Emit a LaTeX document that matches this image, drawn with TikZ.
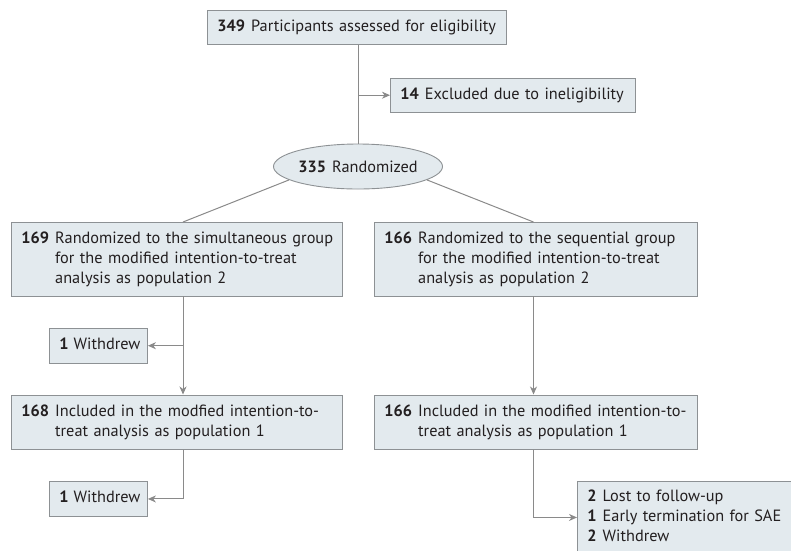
\documentclass[tikz,border=0pt]{standalone}
\usepackage{fontspec}
\setmainfont{PT Sans}
\usetikzlibrary{arrows.meta,shapes.geometric,calc}
\definecolor{boxfill}{HTML}{E3EAEE}
\definecolor{boxline}{HTML}{8D9194}
\definecolor{conn}{HTML}{8A8A8A}
\definecolor{txt}{HTML}{231F20}
\newcommand\fsz{\fontsize{16.3pt}{20pt}\selectfont}
\newcommand\nm[1]{\textbf{#1}}
\begin{document}
\begin{tikzpicture}[x=1pt,y=-1pt,
  box/.style={draw=boxline, fill=boxfill, line width=0.9pt, rectangle,
    inner xsep=10pt, inner ysep=0pt, text=txt, align=left, font=\fsz, anchor=north west},
  oval/.style={draw=boxline, fill=boxfill, line width=0.9pt, ellipse,
    inner sep=0pt, text=txt, font=\fsz},
  line/.style={draw=conn, line width=1pt},
  arr/.style={line, -{Stealth[length=8pt,width=7pt,inset=2.5pt]}}]
\useasboundingbox (0,0) rectangle (791,550);
\clip (0,0) rectangle (791,550);

\coordinate (mx) at (358,0);
\coordinate (lx) at (183,0);
\coordinate (rx) at (533.5,0);

\node[box, minimum width=299, text width=279, minimum height=34] (top) at (207,10)
  {\begin{tabular}{@{}l@{\hspace{6pt}}l@{}}\nm{349} & Participants assessed for eligibility\end{tabular}};
\node[box, minimum width=245, text width=225, minimum height=34.5] (excl) at (390,77.5)
  {\begin{tabular}{@{}l@{\hspace{6pt}}l@{}}\nm{14} & Excluded due to ineligibility\end{tabular}};
\node[oval, minimum width=169, minimum height=45] (rand) at (358,166.5)
  {\nm{335}\hspace{6pt}Randomized};

\node[box, minimum width=331, text width=311, minimum height=73.5] (L1) at (11,222)
  {\begin{tabular}{@{}l@{\hspace{6pt}}l@{}}\nm{169} & Randomized to the simultaneous group\\
   & for the modified intention-to-treat\\ & analysis as population 2\end{tabular}};
\node[box, minimum width=323, text width=303, minimum height=73.5] (R1) at (374,222)
  {\begin{tabular}{@{}l@{\hspace{6pt}}l@{}}\nm{166} & Randomized to the sequential group\\
   & for the modified intention-to-treat\\ & analysis as population 2\end{tabular}};

\node[box, minimum width=98, text width=78, minimum height=34.5] (W1) at (49,328)
  {\begin{tabular}{@{}l@{\hspace{5pt}}l@{}}\nm{1} & Withdrew\end{tabular}};

\node[box, minimum width=331, text width=311, minimum height=54.5] (L2) at (11,394.5)
  {\begin{tabular}{@{}l@{\hspace{6pt}}l@{}}\nm{168} & Included in the modfied intention-to-\\
   & treat analysis as population 1\end{tabular}};
\node[box, minimum width=323, text width=303, minimum height=54.5] (R2) at (374,394.5)
  {\begin{tabular}{@{}l@{\hspace{6pt}}l@{}}\nm{166} & Included in the modified intention-to-\\
   & treat analysis as population 1\end{tabular}};

\node[box, minimum width=98, text width=78, minimum height=35] (W2) at (49,481)
  {\begin{tabular}{@{}l@{\hspace{5pt}}l@{}}\nm{1} & Withdrew\end{tabular}};

\node[box, minimum width=220, text width=200, minimum height=72] (BR) at (577,481)
  {\begin{tabular}{@{}l@{\hspace{6pt}}l@{}}\nm{2} & Lost to follow-up\\
   \nm{1} & Early termination for SAE\\ \nm{2} & Withdrew\end{tabular}};

\draw[line] (top.south -| mx) -- (rand.north);
\draw[arr] (excl.west -| mx) -- (excl.west);
\draw[line] (rand.191) -- (L1.north -| lx);
\draw[line] (rand.-11) -- (R1.north -| rx);
\draw[arr] (L1.south -| lx) -- (L2.north -| lx);
\draw[arr] (W1.east -| lx) -- (W1.east);
\draw[arr] (L2.south -| lx) |- (W2.east);
\draw[arr] (R1.south -| rx) -- (R2.north -| rx);
\draw[arr] (R2.south -| rx) |- (BR.west);
\end{tikzpicture}
\end{document}
